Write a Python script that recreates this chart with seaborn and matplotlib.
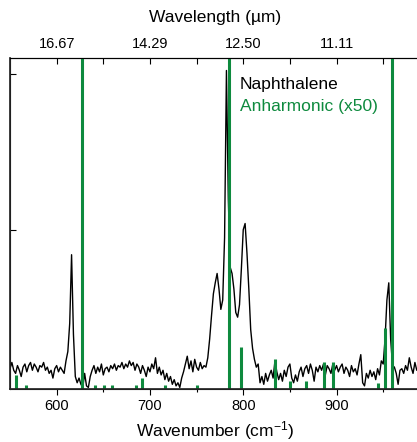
import numpy as np
import pandas as pd
import matplotlib
matplotlib.use("Agg")
import matplotlib.pyplot as plt
import seaborn as sns

# ---- data ----
wavenumber = np.arange(550, 1001, 2)
intensity = [
    0.11, 0.15, 0.10, 0.08, 0.13,   # 550-558
    0.10, 0.06, 0.12, 0.14, 0.09,   # 560
    0.13, 0.15, 0.10, 0.14, 0.12,   # 570
    0.09, 0.13, 0.12, 0.15, 0.10,   # 580
    0.12, 0.08, 0.10, 0.05, 0.11,   # 590
    0.13, 0.09, 0.12, 0.10, 0.08,   # 600
    0.16, 0.22, 0.40, 0.84, 0.33,   # 610
    0.06, 0.02, 0.05, 0.01, -0.01,  # 620
    0.08, 0.00, -0.01, 0.06, 0.10,  # 630
    0.13, 0.08, 0.12, 0.09, 0.14,   # 640
    0.07, 0.11, 0.12, 0.09, 0.13,   # 650
    0.11, 0.14, 0.10, 0.13, 0.12,   # 660
    0.15, 0.11, 0.14, 0.12, 0.16,   # 670
    0.13, 0.15, 0.10, 0.14, 0.12,   # 680
    0.08, 0.13, 0.10, 0.06, 0.12,   # 690
    0.09, 0.14, 0.11, 0.18, 0.08,   # 700
    0.12, 0.07, 0.10, 0.04, 0.08,   # 710
    0.03, 0.06, 0.01, 0.04, 0.00,   # 720
    0.02, -0.01, 0.05, 0.09, 0.14,  # 730
    0.19, 0.11, 0.16, 0.09, 0.17,   # 740
    0.12, 0.10, 0.15, 0.11, 0.13,   # 750
    0.12, 0.18, 0.30, 0.45, 0.59,   # 760
    0.66, 0.72, 0.62, 0.49, 0.55,   # 770
    0.95, 2.02, 1.20, 0.76, 0.72,   # 780
    0.62, 0.47, 0.44, 0.52, 0.75,   # 790
    1.00, 1.04, 0.85, 0.62, 0.36,   # 800
    0.24, 0.17, 0.12, 0.14, 0.02,   # 810
    0.06, 0.01, 0.08, 0.03, 0.07,   # 820
    0.10, 0.05, 0.16, 0.09, 0.04,   # 830
    0.08, 0.03, 0.10, 0.06, 0.12,   # 840
    0.14, 0.05, 0.02, 0.07, 0.03,   # 850
    0.09, 0.12, 0.06, 0.11, 0.13,   # 860
    0.08, 0.14, 0.10, 0.03, 0.12,   # 870
    0.09, 0.13, 0.10, 0.14, 0.07,   # 880
    0.13, 0.11, 0.08, 0.14, 0.10,   # 890
    0.13, 0.09, 0.12, 0.14, 0.08,   # 900
    0.12, 0.10, 0.06, 0.13, 0.09,   # 910
    0.11, 0.07, 0.14, 0.20, 0.02,   # 920
    0.00, 0.08, 0.05, 0.10, 0.06,   # 930
    0.09, 0.04, 0.11, 0.07, 0.16,   # 940
    0.14, 0.30, 0.55, 0.66, 0.30,   # 950
    0.13, 0.12, 0.08, 0.01, 0.10,   # 960
    0.11, 0.08, 0.13, 0.10, 0.18,   # 970
    0.12, 0.08, 0.15, 0.10, 0.13,   # 980
    0.09, 0.12, 0.08, 0.11, 0.10,   # 990
    0.12,                           # 1000
]

stick_pos = [556.8, 567, 627.5, 641, 651, 659, 685, 691.8, 716, 750,
             784.5, 797.6, 834, 850, 867, 887, 896.5, 944, 952, 959.2]
stick_height = [0.07, 0.005, 5.0, 0.005, 0.005, 0.005, 0.005, 0.05, 0.005, 0.005,
                5.0, 0.25, 0.17, 0.03, 0.03, 0.15, 0.15, 0.02, 0.37, 5.0]

bottom_ticks = [600, 700, 800, 900]
bottom_minor = [650, 750, 850, 950]
top_labels = ["16.67", "14.29", "12.50", "11.11"]
y_ticks = [1, 2]

series_labels = ["Naphthalene", "Anharmonic (x50)"]

# ---- style ----
sns.set_theme(style="ticks")
plt.rcParams["font.family"] = ["Liberation Sans", "DejaVu Sans"]
plt.rcParams["mathtext.fontset"] = "custom"
plt.rcParams["mathtext.rm"] = "Liberation Sans"
plt.rcParams["mathtext.it"] = "Liberation Sans"
plt.rcParams["text.color"] = "black"
plt.rcParams["axes.labelcolor"] = "black"
plt.rcParams["xtick.color"] = "black"
plt.rcParams["ytick.color"] = "black"

GREEN = "#0e8a3e"
XMIN, XMAX = 550, 990
YMIN, YMAX = -0.02, 2.10

fig = plt.figure(figsize=(4.17, 4.42), dpi=100)
ax = fig.add_axes([10 / 417, 53 / 442, 410.5 / 417, 331 / 442])

df = pd.DataFrame({"wn": wavenumber, "I": intensity})
sns.lineplot(data=df, x="wn", y="I", ax=ax, color="black", lw=1.0)

ax.vlines(stick_pos, YMIN, np.array(stick_height), colors=GREEN, lw=2.2, zorder=3)

ax.set_xlim(XMIN, XMAX)
ax.set_ylim(YMIN, YMAX)
ax.set_xticks(bottom_ticks)
ax.set_xticks(bottom_minor, minor=True)
ax.set_yticks(y_ticks)
ax.set_yticklabels([])
ax.tick_params(axis="x", which="major", direction="out", length=4.5, width=0.8,
               labelsize=10.5, pad=3, colors="black")
ax.tick_params(axis="x", which="minor", direction="out", length=2.5, width=0.8)
ax.tick_params(axis="y", which="major", direction="in", length=4.5, width=0.8)
ax.set_xlabel(r"Wavenumber (cm$^{-1}$)", fontsize=12.5, labelpad=4)
ax.set_ylabel("")
for s in ["left", "bottom", "top"]:
    ax.spines[s].set_linewidth(0.8)
    ax.spines[s].set_color("black")
ax.spines["right"].set_visible(False)

axt = ax.twiny()
axt.set_xlim(XMIN, XMAX)
axt.set_xticks(bottom_ticks)
axt.set_xticklabels(top_labels)
axt.set_xticks(bottom_minor, minor=True)
axt.tick_params(axis="x", which="both", direction="in", length=4.5, width=0.8,
                labelsize=10.5, pad=5)
axt.set_xlabel("Wavelength (\u00b5m)", fontsize=12.5, labelpad=10.5)
axt.spines["right"].set_visible(False)
axt.spines["top"].set_linewidth(0.8)
axt.spines["top"].set_color("black")

ax.text(796.5, 1.93, series_labels[0], color="black", fontsize=12.5, va="center", ha="left")
ax.text(796.5, 1.79, series_labels[1], color=GREEN, fontsize=12.5, va="center", ha="left")

fig.savefig("out.png", dpi=100)
